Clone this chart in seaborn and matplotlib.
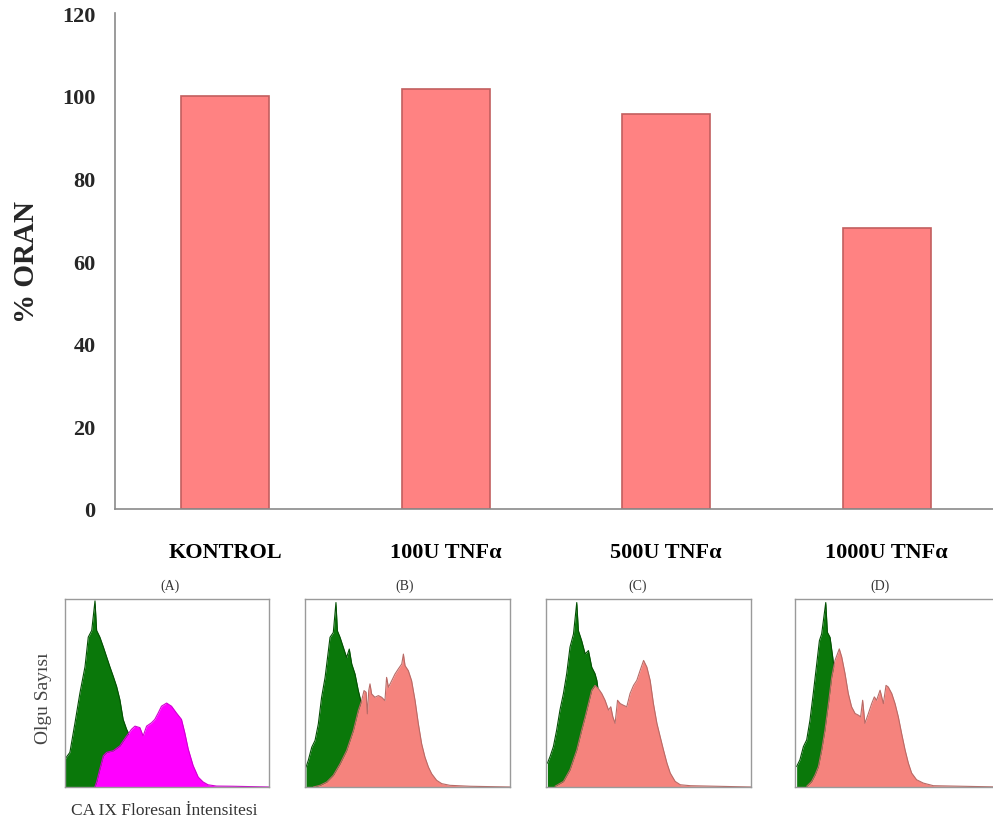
import numpy as np
import pandas as pd
import matplotlib
matplotlib.use("Agg")
import matplotlib.pyplot as plt
import seaborn as sns

# ---------------- data ----------------
categories = ["KONTROL", "100U TNFα", "500U TNFα", "1000U TNFα"]
oran = [100.0, 101.5, 95.5, 68.0]
y_ticks = [0, 20, 40, 60, 80, 100, 120]
y_label = "% ORAN"
panel_titles = ["(A)", "(B)", "(C)", "(D)"]
hist_ylabel = "Olgu Sayısı"
hist_xlabel = "CA IX Floresan İntensitesi"

# histogram curves (x: % of channel range, y: % of count scale)
a_green_x = [0, 2.4, 4.9, 7.3, 9.8, 11.4, 13.1, 14.7, 15.5, 17.1, 18.8, 20.4, 22.0, 23.7, 25.3, 26.9, 28.5, 30.2, 31.0, 32.6, 35.1]
a_green_y = [15.0, 18.6, 34.5, 50.4, 64.6, 80.5, 84.1, 100, 84.1, 80.5, 75.2, 69.9, 64.6, 59.3, 54.0, 46.9, 36.3, 31.0, 29.2, 20.0, 0]
a_mag_x = [14.6, 15.5, 17.1, 18.8, 20.4, 23.7, 26.9, 30.2, 32.6, 34.3, 36.7, 38.3, 40.0, 42.4, 44.0, 45.7, 47.3, 49.8, 52.2, 54.6, 57.1, 58.7, 60.4, 62.8, 65.3, 67.7, 70.1, 74.2, 82.4, 100]
a_mag_y = [0, 2.7, 9.7, 16.8, 18.6, 19.5, 22.1, 27.4, 31.0, 32.7, 31.9, 27.4, 32.7, 34.5, 36.3, 39.8, 43.4, 45.1, 43.4, 39.8, 36.3, 29.2, 20.4, 11.5, 5.3, 2.7, 1.2, 0.5, 0.4, 0]

b_green_x = [0.5, 1.6, 3.3, 4.9, 6.5, 8.1, 9.8, 11.4, 12.2, 13.8, 15.1, 15.8, 17.1, 18.7, 20.3, 21.6, 22.8, 24.4, 26.0, 27.2, 28.5, 30.9]
b_green_y = [10.7, 14.3, 21.4, 25.0, 33.9, 48.2, 58.9, 73.2, 80.4, 83.0, 99.1, 83.9, 80.4, 75.0, 69.6, 74.1, 66.1, 60.7, 51.8, 46.4, 30.4, 0]
b_red_x = [4.1, 7.3, 10.6, 13.8, 17.1, 20.3, 23.6, 26.0, 27.6, 28.8, 29.8, 30.4, 31.1, 31.7, 32.5, 34.1, 35.8, 37.4, 39.0, 39.8, 40.7, 42.3, 43.9, 45.5, 47.2, 48.0, 48.8, 50.4, 52.0, 53.7, 55.3, 56.9, 58.5, 60.2, 61.8, 64.2, 66.7, 70.7, 80.5, 100]
b_red_y = [0, 0.9, 2.7, 6.3, 12.5, 19.6, 30.4, 41.1, 46.4, 51.8, 50.9, 39.3, 51.8, 55.4, 50.0, 48.2, 49.1, 48.2, 46.4, 58.9, 53.6, 57.1, 60.7, 63.4, 66.1, 71.4, 65.2, 62.5, 57.1, 46.4, 33.9, 23.2, 16.1, 10.7, 7.1, 3.6, 1.8, 0.9, 0.4, 0]

c_green_x = [0.7, 2.0, 3.6, 5.2, 6.8, 8.5, 10.1, 11.7, 13.4, 15.0, 15.8, 17.4, 19.1, 20.7, 22.3, 23.9, 24.8, 27.2, 30.5]
c_green_y = [12.8, 16.4, 21.7, 30.6, 41.3, 50.2, 60.9, 75.1, 82.2, 99.1, 84.0, 78.6, 71.5, 73.3, 64.4, 60.9, 57.3, 37.7, 0]
c_red_x = [4.4, 8.5, 11.7, 15.0, 17.4, 19.1, 20.7, 22.3, 23.9, 25.6, 27.2, 28.8, 30.5, 31.6, 32.6, 33.7, 34.9, 36.2, 37.8, 39.4, 41.0, 42.7, 44.3, 45.9, 47.6, 49.2, 50.8, 52.4, 54.1, 55.7, 57.3, 59.0, 60.6, 63.0, 65.5, 70.4, 100]
c_red_y = [0.4, 3.0, 9.3, 19.9, 30.6, 37.7, 44.8, 52.0, 54.6, 52.8, 50.2, 46.6, 41.3, 43.1, 37.7, 34.2, 46.6, 44.8, 43.9, 43.1, 50.2, 54.6, 57.3, 62.6, 68.0, 64.4, 57.3, 44.8, 34.2, 27.0, 19.9, 12.8, 7.5, 3.0, 1.2, 0.7, 0]

d_green_x = [0.8, 2.4, 4.1, 5.7, 7.3, 8.9, 10.6, 11.9, 13.0, 15.0, 15.8, 17.1, 18.4, 19.0, 20.3, 22.0]
d_green_y = [11.0, 14.6, 21.7, 25.3, 35.9, 50.2, 66.2, 78.6, 82.2, 99.1, 83.1, 80.4, 69.8, 64.4, 37.7, 0]
d_red_x = [5.7, 8.1, 9.8, 11.4, 13.0, 14.6, 16.3, 17.9, 19.5, 20.7, 21.6, 22.8, 24.4, 26.0, 27.6, 29.3, 30.9, 32.0, 33.0, 34.1, 35.8, 37.4, 38.7, 39.8, 41.5, 43.1, 44.4, 45.5, 47.2, 48.8, 50.4, 52.0, 53.7, 55.3, 56.9, 59.3, 62.6, 67.5, 100]
d_red_y = [0.4, 3.0, 6.6, 11.0, 19.9, 30.6, 44.8, 59.1, 68.0, 71.5, 74.2, 69.8, 60.9, 50.2, 43.1, 39.5, 38.6, 37.7, 46.6, 34.2, 39.5, 44.8, 48.4, 46.6, 52.0, 44.8, 54.6, 53.7, 50.2, 44.8, 37.7, 28.8, 19.9, 12.8, 7.5, 3.9, 2.1, 0.7, 0]

# ---------------- style ----------------
sns.set_theme(style="white")
plt.rcParams['font.family'] = ['Liberation Serif', 'DejaVu Serif']

W, H = 993, 828
fig = plt.figure(figsize=(W / 100, H / 100), dpi=100)
fig.patch.set_facecolor("white")


def px(x0, y0, x1, y1):
    return [x0 / W, 1 - y1 / H, (x1 - x0) / W, (y1 - y0) / H]


# ---------------- bar chart ----------------
ax = fig.add_axes(px(115, 14, 997, 510))
df = pd.DataFrame({"cat": categories, "val": oran})
sns.barplot(data=df, x="cat", y="val", color="#FF8282", saturation=1, width=0.4,
            edgecolor="#C25F5F", linewidth=1.2, ax=ax)
ax.set_xlim(-0.5, 3.5)
ax.set_ylim(0, 120)
ax.set_yticks(y_ticks)
ax.set_yticklabels([str(t) for t in y_ticks], fontsize=16, fontweight="bold")
ax.set_xticks(range(len(categories)))
ax.set_xticklabels(categories, fontsize=16, fontweight="bold")
ax.set_xticks([-0.5, 0.5, 1.5, 2.5, 3.5], minor=True)
ax.tick_params(axis="x", which="major", length=0, pad=24, colors="black")
ax.tick_params(axis="x", which="minor", length=6, width=1.2, color="#8a8a8a", direction="out")
ax.tick_params(axis="y", which="major", length=6, width=1.2, color="#8a8a8a", direction="out", pad=8)
for s in ["top", "right"]:
    ax.spines[s].set_visible(False)
for s in ["left", "bottom"]:
    ax.spines[s].set_color("#8a8a8a")
    ax.spines[s].set_linewidth(1.2)
ax.set_xlabel("")
ax.set_ylabel(y_label, fontsize=21, fontweight="bold", labelpad=16)
ax.grid(False)

# ---------------- histogram panels ----------------
green = "#0A780A"
panels = [
    (65, 269, a_green_x, a_green_y, a_mag_x, a_mag_y, "#FF00FF", "#D000D0"),
    (305, 510, b_green_x, b_green_y, b_red_x, b_red_y, "#F5837D", "#B86A66"),
    (546, 751, c_green_x, c_green_y, c_red_x, c_red_y, "#F5837D", "#B86A66"),
    (795, 1000, d_green_x, d_green_y, d_red_x, d_red_y, "#F5837D", "#B86A66"),
]
title_x = [170, 405, 638, 880]
for i, (x0, x1, gx, gy, rx, ry, fc, ec) in enumerate(panels):
    hax = fig.add_axes(px(x0, 600, x1, 788))
    hax.fill_between(gx, gy, 0, color=green, linewidth=0, zorder=1)
    sns.lineplot(x=gx, y=gy, color="#045004", linewidth=0.8, ax=hax, sort=False, zorder=1.5)
    hax.fill_between(rx, ry, 0, color=fc, linewidth=0, zorder=2)
    sns.lineplot(x=rx, y=ry, color=ec, linewidth=0.8, ax=hax, sort=False, zorder=2.5)
    hax.set_xlim(0, 100)
    hax.set_ylim(0, 101)
    hax.set_xticks([])
    hax.set_yticks([])
    for s in hax.spines.values():
        s.set_color("#9a9a9a")
        s.set_linewidth(1.0)
        s.set_zorder(3)
    hax.set_facecolor("white")
    fig.text(title_x[i] / W, 1 - 586 / H, panel_titles[i], ha="center", va="center",
             fontsize=10, color="#333333")

fig.text(44 / W, 1 - 698 / H, hist_ylabel, rotation=90, ha="center", va="center",
         fontsize=14, color="#444444")
fig.text(164 / W, 1 - 811 / H, hist_xlabel, ha="center", va="center",
         fontsize=12.5, color="#333333")

fig.savefig("out.png", dpi=100, facecolor="white")
